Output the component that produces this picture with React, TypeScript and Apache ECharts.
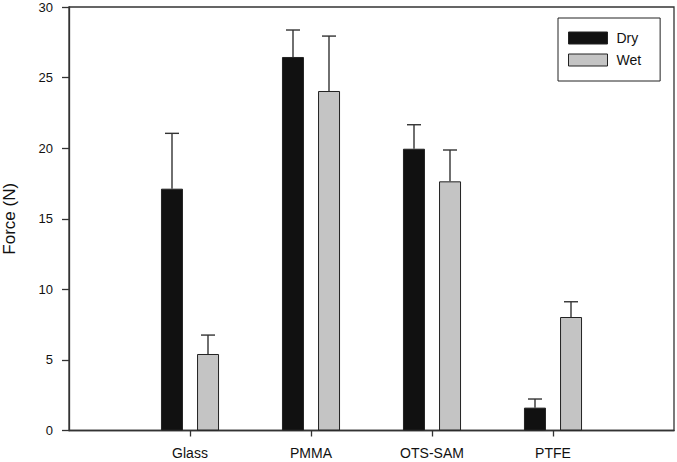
import React, { useEffect, useRef } from "react";
import * as echarts from "echarts";

const categories = ["", "Glass", "PMMA", "OTS-SAM", "PTFE", ""];
const dryValues = ["-", 17.13, 26.46, 19.96, 1.62, "-"];
const dryErrors = [0, 3.92, 1.91, 1.7, 0.61, 0];
const wetValues = ["-", 5.42, 24.05, 17.65, 8.04, "-"];
const wetErrors = [0, 1.34, 3.89, 2.22, 1.08, 0];
const yTicks = { min: 0, max: 30, interval: 5 };

const FONT = "'Liberation Sans', Arial, sans-serif";
const AXIS_COLOR = "#333";

function errorData(values: any[], errors: number[]) {
  const out: number[][] = [];
  values.forEach((v, i) => {
    if (typeof v === "number") out.push([i, v, v + errors[i]]);
  });
  return out;
}

function makeErrorSeries(name: string, values: any[], errors: number[], offset: number) {
  return {
    type: "custom",
    name: name + "-err",
    z: 5,
    silent: true,
    data: errorData(values, errors),
    renderItem: (params: any, api: any) => {
      const base = api.coord([api.value(0), api.value(1)]);
      const top = api.coord([api.value(0), api.value(2)]);
      const x = base[0] + offset;
      const style = { stroke: AXIS_COLOR, lineWidth: 1.4 };
      return {
        type: "group",
        children: [
          { type: "line", shape: { x1: x, y1: base[1], x2: x, y2: top[1] }, style },
          { type: "line", shape: { x1: x - 7, y1: top[1], x2: x + 7, y2: top[1] }, style },
        ],
      };
    },
  };
}

export default function App() {
  const ref = useRef<HTMLDivElement>(null);
  useEffect(() => {
    if (!ref.current) return;
    document.body.style.margin = "0";
    const chart = echarts.init(ref.current, undefined, { renderer: "svg" });
    chart.setOption({
      animation: false,
      backgroundColor: "#fff",
      textStyle: { fontFamily: FONT },
      grid: {
        left: 69,
        right: 3,
        top: 7,
        bottom: 31.5,
        containLabel: false,
        outerBoundsMode: "none",
        show: true,
        borderColor: AXIS_COLOR,
        borderWidth: 1.3,
        backgroundColor: "transparent",
      },
      legend: {
        orient: "vertical",
        left: 558,
        top: 18,
        padding: [13, 19, 14, 10],
        itemWidth: 39,
        itemHeight: 12,
        itemGap: 8,
        borderColor: "#222",
        borderWidth: 1,
        backgroundColor: "#fff",
        textStyle: { fontFamily: FONT, fontSize: 14, color: "#111", padding: [0, 0, 0, 4] },
        data: [
          { name: "Dry", icon: "rect", itemStyle: { color: "#111", borderColor: "#222", borderWidth: 1 } },
          { name: "Wet", icon: "rect", itemStyle: { color: "#c4c4c4", borderColor: "#222", borderWidth: 1 } },
        ],
      },
      xAxis: {
        type: "category",
        data: categories,
        boundaryGap: false,
        axisLine: { lineStyle: { color: AXIS_COLOR, width: 1.3 } },
        axisTick: {
          length: 6,
          lineStyle: { color: AXIS_COLOR, width: 1.3 },
          interval: (i: number) => i > 0 && i < categories.length - 1,
        },
        axisLabel: { fontFamily: FONT, fontSize: 14, color: "#111", margin: 15 },
        splitLine: { show: false },
      },
      yAxis: {
        type: "value",
        min: yTicks.min,
        max: yTicks.max,
        interval: yTicks.interval,
        name: "Force (N)",
        nameLocation: "middle",
        nameGap: 51,
        nameTextStyle: { fontFamily: FONT, fontSize: 17, color: "#111" },
        axisLine: { show: true, lineStyle: { color: AXIS_COLOR, width: 1.3 } },
        axisTick: { show: true, length: 7, lineStyle: { color: AXIS_COLOR, width: 1.3 } },
        axisLabel: { fontFamily: FONT, fontSize: 13, color: "#111", margin: 16 },
        splitLine: { show: false },
      },
      series: [
        {
          type: "bar",
          name: "Dry",
          data: dryValues,
          barWidth: 22,
          barGap: "64%",
          itemStyle: { color: "#111", borderColor: "#222", borderWidth: 1 },
          z: 3,
        },
        {
          type: "bar",
          name: "Wet",
          data: wetValues,
          barWidth: 22,
          barGap: "64%",
          itemStyle: { color: "#c4c4c4", borderColor: "#222", borderWidth: 1 },
          z: 3,
        },
        makeErrorSeries("Dry", dryValues, dryErrors, -18),
        makeErrorSeries("Wet", wetValues, wetErrors, 18),
      ],
    });
    return () => chart.dispose();
  }, []);
  return <div ref={ref} style={{ width: 677, height: 462 }} />;
}
